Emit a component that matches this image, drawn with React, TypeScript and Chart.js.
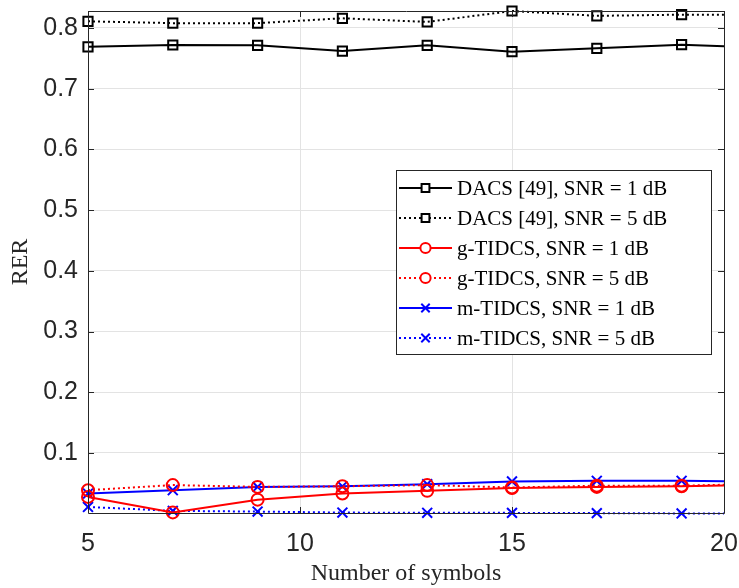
import React, { useEffect, useRef } from "react";
import { Chart, registerables } from "chart.js";

Chart.register(...registerables);

const symbols = [5, 7, 9, 11, 13, 15, 17, 19, 21];
const dacs1 = [0.769, 0.772, 0.7715, 0.762, 0.7715, 0.761, 0.7665, 0.7725, 0.767];
const dacs5 = [0.811, 0.808, 0.808, 0.816, 0.81, 0.828, 0.82, 0.822, 0.822];
const gTidcs1 = [0.0275, 0.002, 0.023, 0.033, 0.0375, 0.042, 0.044, 0.045, 0.048];
const gTidcs5 = [0.0386, 0.047, 0.044, 0.045, 0.047, 0.043, 0.046, 0.046, 0.049];
const mTidcs1 = [0.033, 0.0386, 0.044, 0.045, 0.0485, 0.053, 0.054, 0.054, 0.053];
const mTidcs5 = [0.011, 0.0045, 0.0033, 0.0017, 0.0013, 0.0012, 0.0008, 0.0003, 0.0002];
const xTicks = [5, 10, 15, 20];
const yTicks = [0.1, 0.2, 0.3, 0.4, 0.5, 0.6, 0.7, 0.8];
const seriesNames = [
  "DACS [49], SNR = 1 dB",
  "DACS [49], SNR = 5 dB",
  "g-TIDCS, SNR = 1 dB",
  "g-TIDCS, SNR = 5 dB",
  "m-TIDCS, SNR = 1 dB",
  "m-TIDCS, SNR = 5 dB",
];
const xTitle = "Number of symbols";
const yTitle = "RER";

const AXIS = "#262626";
const GRID = "#e3e3e3";
const DOT = [2, 3];

function drawMarker(ctx: CanvasRenderingContext2D, style: string, x: number, y: number, r: number, color: string, lw: number) {
  ctx.save();
  ctx.setLineDash([]);
  ctx.strokeStyle = color;
  ctx.lineWidth = lw;
  ctx.beginPath();
  if (style === "rect") {
    const s = Math.SQRT1_2 * r;
    ctx.fillStyle = "#fff";
    ctx.rect(x - s, y - s, 2 * s, 2 * s);
    ctx.fill();
  } else if (style === "circle") {
    ctx.fillStyle = "#fff";
    ctx.arc(x, y, r, 0, Math.PI * 2);
    ctx.fill();
  } else {
    const s = Math.SQRT1_2 * r;
    ctx.moveTo(x - s, y - s);
    ctx.lineTo(x + s, y + s);
    ctx.moveTo(x - s, y + s);
    ctx.lineTo(x + s, y - s);
  }
  ctx.stroke();
  ctx.restore();
}

const boxPlugin = {
  id: "matlabBox",
  afterDatasetsDraw(chart: any) {
    const { ctx, chartArea } = chart;
    const { left, right, top, bottom } = chartArea;
    const xs = chart.scales.x;
    const ys = chart.scales.y;
    ctx.save();
    ctx.strokeStyle = AXIS;
    ctx.lineWidth = 1;
    ctx.setLineDash([]);
    ctx.beginPath();
    ctx.rect(Math.round(left) + 0.5, Math.round(top) + 0.5, Math.round(right - left), Math.round(bottom - top));
    const tl = 6;
    xTicks.forEach((v) => {
      const px = Math.round(xs.getPixelForValue(v)) + 0.5;
      ctx.moveTo(px, bottom);
      ctx.lineTo(px, bottom - tl);
      ctx.moveTo(px, top);
      ctx.lineTo(px, top + tl);
    });
    yTicks.forEach((v) => {
      const py = Math.round(ys.getPixelForValue(v)) + 0.5;
      ctx.moveTo(left, py);
      ctx.lineTo(left + tl, py);
      ctx.moveTo(right, py);
      ctx.lineTo(right - tl, py);
    });
    ctx.stroke();
    ctx.restore();
  },
};

const legendPlugin = {
  id: "matlabLegend",
  afterDraw(chart: any) {
    const ctx: CanvasRenderingContext2D = chart.ctx;
    const x0 = 396, y0 = 170, w = 315, h = 184;
    ctx.save();
    ctx.fillStyle = "#fff";
    ctx.fillRect(x0, y0, w, h);
    ctx.strokeStyle = AXIS;
    ctx.lineWidth = 1;
    ctx.strokeRect(x0 + 0.5, y0 + 0.5, w, h);
    chart.data.datasets.forEach((ds: any, i: number) => {
      const y = 188 + i * 30;
      ctx.beginPath();
      ctx.setLineDash(ds.borderDash || []);
      ctx.strokeStyle = ds.borderColor;
      ctx.lineWidth = ds.borderWidth;
      ctx.moveTo(399, y);
      ctx.lineTo(452, y);
      ctx.stroke();
      ctx.setLineDash([]);
      drawMarker(ctx, ds.pointStyle, 425.5, y, ds.pointRadius * 0.85, ds.borderColor, ds.pointBorderWidth);
      ctx.fillStyle = "#000";
      ctx.font = '21px "Liberation Serif"';
      ctx.textBaseline = "middle";
      ctx.textAlign = "left";
      ctx.fillText(seriesNames[i], 457, y + 1);
    });
    ctx.restore();
  },
};

function makeDs(i: number, data: number[], color: string, dotted: boolean, style: string, radius: number) {
  return {
    label: seriesNames[i],
    data: symbols.map((x, k) => ({ x, y: data[k] })),
    borderColor: color,
    backgroundColor: color,
    borderWidth: 2,
    borderDash: dotted ? DOT : [],
    pointStyle: style,
    pointRadius: radius,
    pointBorderWidth: 2,
    pointBorderColor: color,
    pointBackgroundColor: style === "crossRot" ? color : "rgba(255,255,255,0)",
    pointHoverRadius: radius,
    tension: 0,
    clip: { left: 10, top: 10, right: 0, bottom: 10 },
  };
}

export default function App() {
  const ref = useRef<HTMLCanvasElement | null>(null);
  useEffect(() => {
    if (!ref.current) return;
    const chart = new Chart(ref.current, {
      type: "line",
      data: {
        datasets: [
          makeDs(0, dacs1, "#000000", false, "rect", 6.5),
          makeDs(1, dacs5, "#000000", true, "rect", 6.5),
          makeDs(2, gTidcs1, "#ff0000", false, "circle", 6),
          makeDs(3, gTidcs5, "#ff0000", true, "circle", 6),
          makeDs(4, mTidcs1, "#0000ff", false, "crossRot", 7),
          makeDs(5, mTidcs5, "#0000ff", true, "crossRot", 7),
        ] as any,
      },
      options: {
        animation: false,
        responsive: false,
        maintainAspectRatio: false,
        devicePixelRatio: 1,
        layout: { padding: { top: 11, right: 15, left: 0, bottom: 0 } },
        plugins: { legend: { display: false }, tooltip: { enabled: false } },
        scales: {
          x: {
            type: "linear",
            min: 5,
            max: 20,
            afterBuildTicks: (s: any) => {
              s.ticks = xTicks.map((v) => ({ value: v }));
            },
            afterFit: (s: any) => {
              s.height = 75;
              s.paddingLeft = 0;
              s.paddingRight = 0;
            },
            ticks: {
              color: AXIS,
              font: { family: '"Liberation Sans", Arial', size: 25 },
              padding: 16,
              maxRotation: 0,
              autoSkip: false,
              callback: (v: any) => String(v),
            },
            grid: { color: GRID, drawTicks: false, lineWidth: 1 },
            border: { display: false },
            title: {
              display: true,
              text: xTitle,
              color: AXIS,
              font: { family: '"Liberation Serif", "Times New Roman"', size: 24 },
              padding: { top: 0, bottom: 0 },
            },
          },
          y: {
            type: "linear",
            min: 0.001,
            max: 0.828,
            afterBuildTicks: (s: any) => {
              s.ticks = yTicks.map((v) => ({ value: v }));
            },
            afterFit: (s: any) => {
              s.width = 88;
              s.paddingTop = 0;
              s.paddingBottom = 0;
            },
            ticks: {
              color: AXIS,
              font: { family: '"Liberation Sans", Arial', size: 25 },
              padding: 10,
              autoSkip: false,
              callback: (v: any) => Number(v).toFixed(1),
            },
            grid: { color: GRID, drawTicks: false, lineWidth: 1 },
            border: { display: false },
            title: {
              display: true,
              text: yTitle,
              color: AXIS,
              font: { family: '"Liberation Serif", "Times New Roman"', size: 24 },
              padding: { top: 6, bottom: 0 },
            },
          },
        },
      },
      plugins: [boxPlugin, legendPlugin],
    } as any);
    return () => chart.destroy();
  }, []);
  return (
    <div style={{ position: "fixed", left: 0, top: 0, width: 739, height: 588, background: "#fff" }}>
      <canvas ref={ref} width={739} height={588} style={{ display: "block", width: 739, height: 588 }} />
    </div>
  );
}
